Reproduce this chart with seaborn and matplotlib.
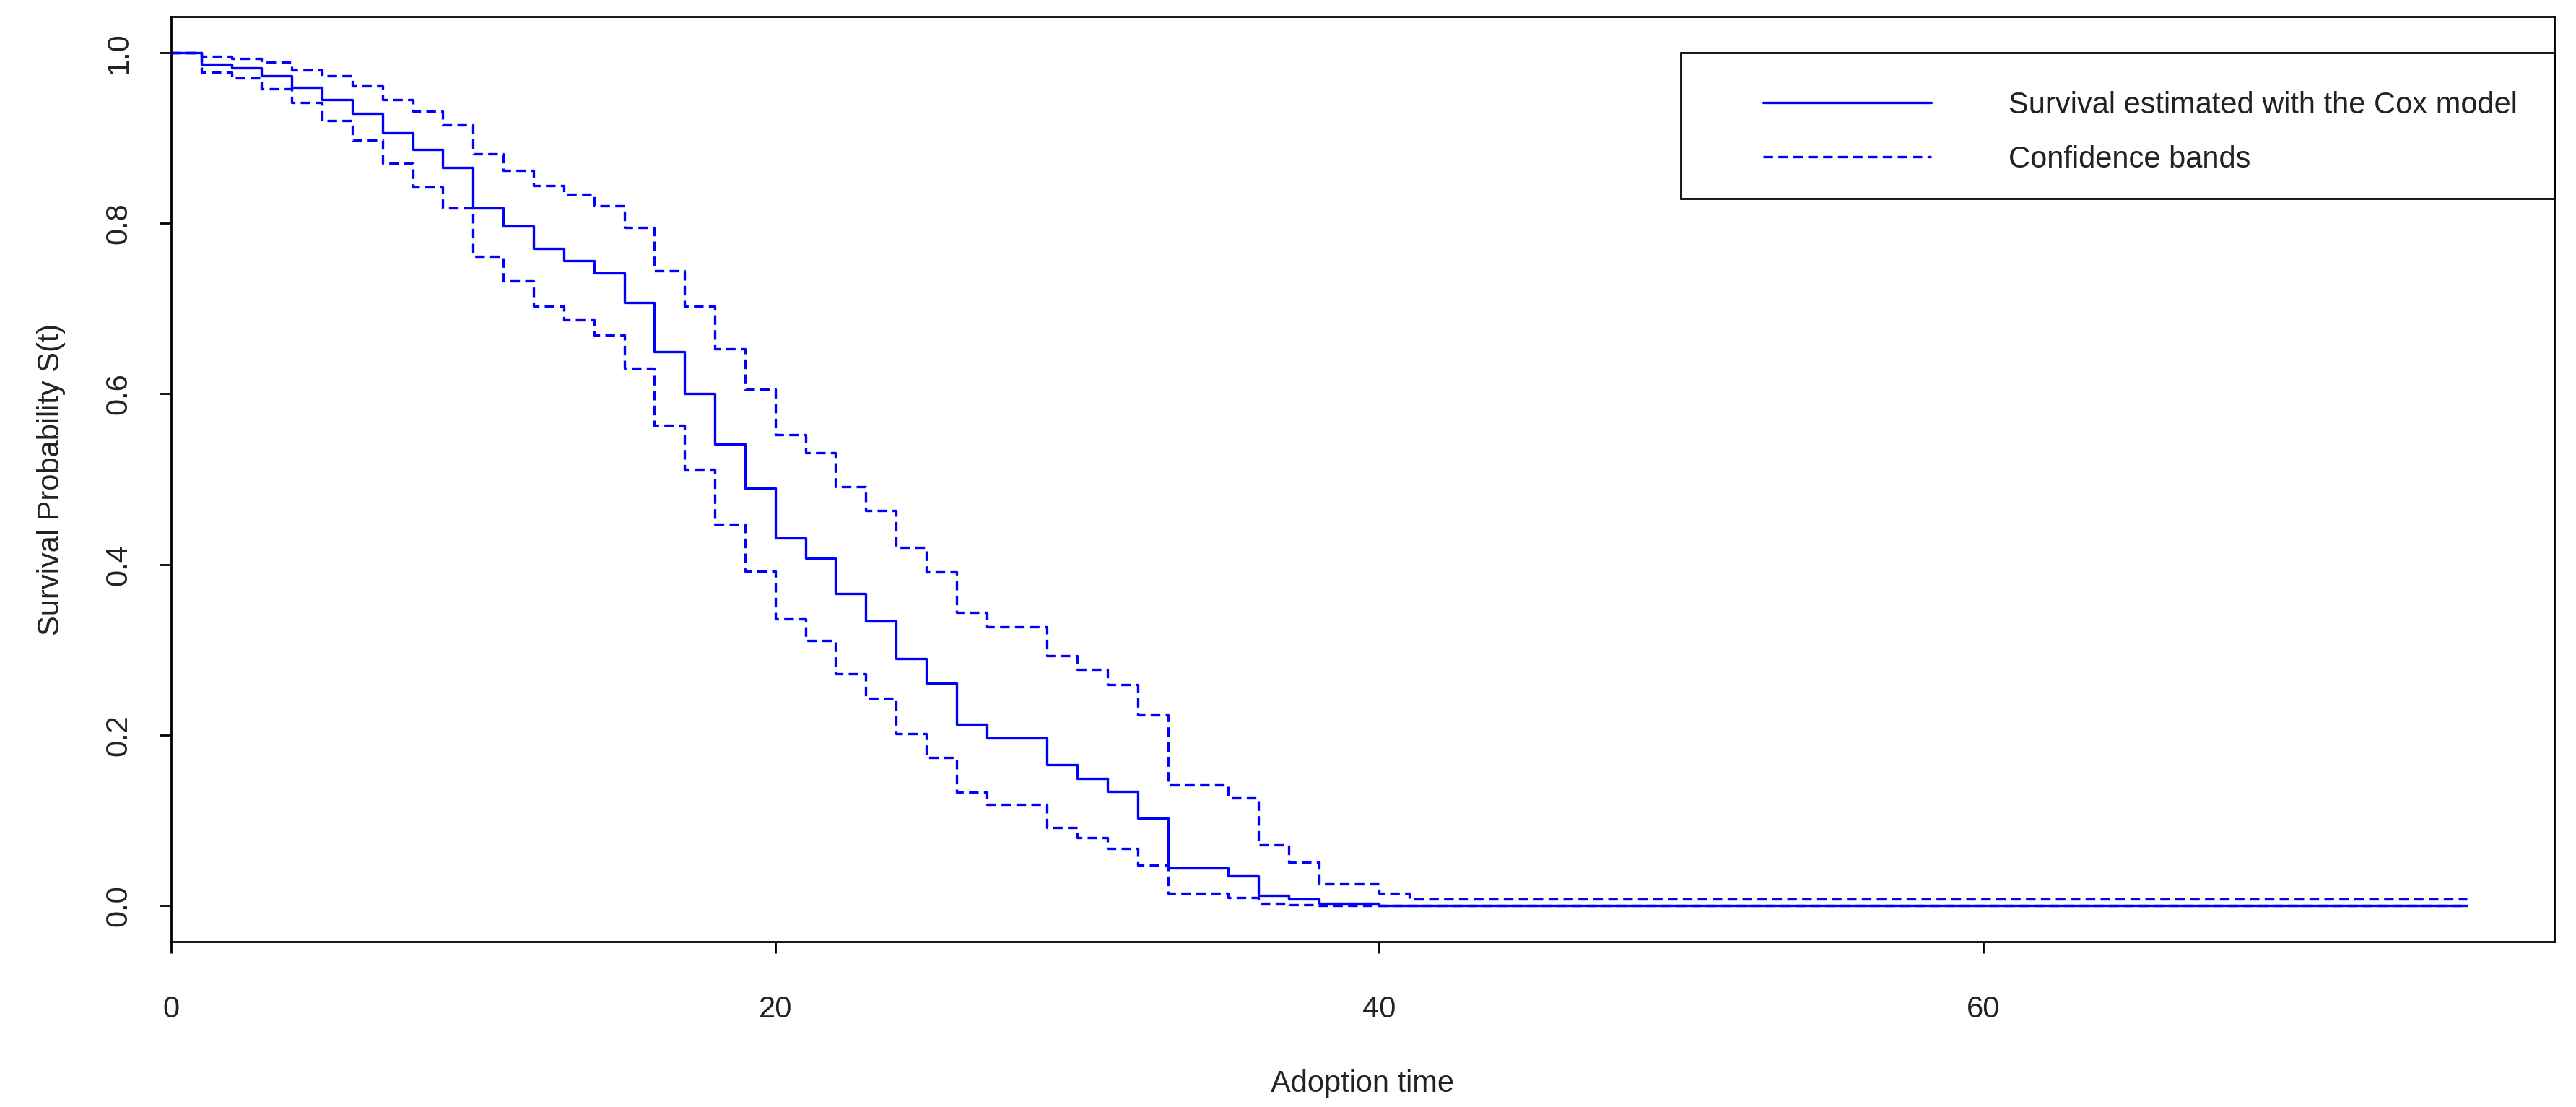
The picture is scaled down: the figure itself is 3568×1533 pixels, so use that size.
import numpy as np
import pandas as pd
import matplotlib
matplotlib.use("Agg")
import matplotlib.pyplot as plt
from matplotlib.patches import Rectangle
from matplotlib.lines import Line2D
import seaborn as sns

# tiempos de adopcion (cada salto ocurre en un entero)
time = list(range(0, 42)) + [76]

surv = [1.0, 0.986, 0.982, 0.973, 0.959, 0.945, 0.929, 0.906, 0.886, 0.865,
        0.818, 0.797, 0.770, 0.756, 0.742, 0.707, 0.649, 0.600, 0.541, 0.489,
        0.431, 0.407, 0.366, 0.334, 0.290, 0.261, 0.213, 0.197, 0.197, 0.165,
        0.149, 0.134, 0.103, 0.044, 0.044, 0.035, 0.012, 0.0076, 0.0025, 0.0025,
        0.0, 0.0, 0.0]

upper = [1.0, 0.9955, 0.993, 0.989, 0.979, 0.973, 0.961, 0.945, 0.9315, 0.915,
         0.881, 0.862, 0.844, 0.834, 0.820, 0.795, 0.744, 0.703, 0.653, 0.605,
         0.552, 0.531, 0.491, 0.4635, 0.420, 0.391, 0.344, 0.327, 0.327, 0.293,
         0.277, 0.259, 0.224, 0.142, 0.142, 0.126, 0.071, 0.051, 0.026, 0.026,
         0.0146, 0.0076, 0.0076]

lower = [1.0, 0.977, 0.970, 0.957, 0.941, 0.920, 0.897, 0.870, 0.842, 0.818,
         0.761, 0.732, 0.703, 0.687, 0.669, 0.630, 0.563, 0.511, 0.447, 0.392,
         0.336, 0.311, 0.272, 0.243, 0.202, 0.174, 0.133, 0.119, 0.119, 0.092,
         0.080, 0.067, 0.048, 0.0146, 0.0146, 0.010, 0.003, 0.001, 0.0, 0.0,
         0.0, 0.0, 0.0]

x_ticks = [0, 20, 40, 60]
y_ticks = [0.0, 0.2, 0.4, 0.6, 0.8, 1.0]
legend_labels = ["Survival estimated with the Cox model", "Confidence bands"]

df = pd.DataFrame({"time": time, "surv": surv, "upper": upper, "lower": lower})

sns.set_theme(style="ticks")
plt.rcParams["font.family"] = ["Liberation Sans", "DejaVu Sans"]
plt.rcParams["font.size"] = 15

blue = "#0000FF"
dash = (0, (4, 2.2))

fig = plt.figure(figsize=(17.84, 7.665), dpi=200)
ax = fig.add_axes([0.0664, 0.1494, 0.9252, 0.8356])

sns.lineplot(data=df, x="time", y="surv", drawstyle="steps-post", color=blue,
             linewidth=1.2, estimator=None, ax=ax)
sns.lineplot(data=df, x="time", y="upper", drawstyle="steps-post", color=blue,
             linewidth=1.2, linestyle=dash, estimator=None, ax=ax)
sns.lineplot(data=df, x="time", y="lower", drawstyle="steps-post", color=blue,
             linewidth=1.2, linestyle=dash, estimator=None, ax=ax)

ax.set_xlim(0, 78.9)
ax.set_ylim(-0.042, 1.042)
ax.set_xticks(x_ticks)
ax.set_xticklabels([str(v) for v in x_ticks])
ax.set_yticks(y_ticks)
ax.set_yticklabels([f"{v:.1f}" for v in y_ticks], rotation=90, va="center")

for s in ax.spines.values():
    s.set_visible(True)
    s.set_color("black")
    s.set_linewidth(1.0)

ax.tick_params(axis="both", direction="out", length=5.8, width=1.0,
               colors="black", labelsize=15, labelcolor="#222222")
ax.tick_params(axis="x", pad=21)
ax.tick_params(axis="y", pad=13)

ax.set_xlabel("Adoption time", fontsize=15, color="#222222", labelpad=22.7)
ax.set_ylabel("Survival Probability S(t)", fontsize=15, color="#222222", labelpad=19.5)

# caja de la leyenda estilo R
box = Rectangle((0.6334, 0.803), 0.3666, 0.158, transform=ax.transAxes,
                facecolor="white", edgecolor="black", linewidth=1.0,
                zorder=5, clip_on=False)
ax.add_patch(box)

handles = [Line2D([], [], color=blue, linewidth=1.2),
           Line2D([], [], color=blue, linewidth=1.2, linestyle=dash)]
leg = ax.legend(handles, legend_labels, loc="upper left",
                bbox_to_anchor=(0.668, 0.9196), frameon=False,
                borderpad=0, borderaxespad=0, handlelength=5.6,
                handletextpad=2.56, labelspacing=0.83, fontsize=15)
leg.set_zorder(6)
for t in leg.get_texts():
    t.set_color("#222222")

fig.savefig("out.png", dpi=200)
